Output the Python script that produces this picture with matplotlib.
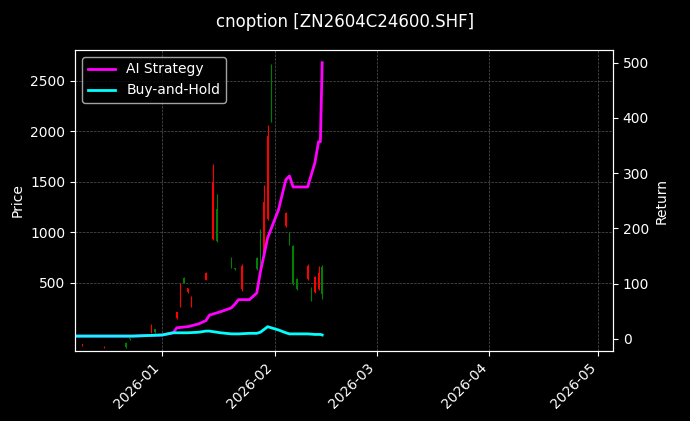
import pandas as pd
import matplotlib
matplotlib.use("Agg")
import matplotlib.pyplot as plt
import matplotlib.dates as mdates

plt.style.use("dark_background")

# candles: date, open, high, low, close
c_dates = ["2025-12-10", "2025-12-16", "2025-12-22", "2025-12-23", "2025-12-29", "2025-12-30",
           "2026-01-05", "2026-01-06", "2026-01-07", "2026-01-08", "2026-01-09", "2026-01-13",
           "2026-01-15", "2026-01-16", "2026-01-20", "2026-01-21", "2026-01-23", "2026-01-27",
           "2026-01-28", "2026-01-29", "2026-01-30", "2026-01-31", "2026-02-04", "2026-02-05",
           "2026-02-06", "2026-02-07", "2026-02-10", "2026-02-11", "2026-02-12", "2026-02-13",
           "2026-02-14"]
c_open = [-110, -135, -140, -60, 80, 10, 210, 480, 500, 445, 350, 600, 1500, 910, 650, 640, 670, 640, 630, 1300, 1950, 2100, 1190, 880, 490, 440, 670, 330, 560, 600, 390]
c_close = [-120, -140, -95, -50, 10, 40, 150, 270, 545, 405, 270, 530, 930, 1230, 750, 640, 440, 750, 950, 790, 1130, 2650, 1060, 970, 860, 540, 540, 450, 410, 440, 660]
c_high = [-105, -130, -90, -45, 90, 45, 215, 500, 555, 450, 365, 605, 1680, 1380, 760, 650, 690, 760, 1030, 1470, 2060, 2670, 1200, 1000, 870, 550, 690, 460, 570, 670, 680]
c_low = [-125, -145, -145, -65, 0, 5, 145, 260, 500, 395, 260, 525, 925, 900, 645, 630, 420, 630, 610, 770, 1120, 2090, 1050, 870, 480, 430, 530, 320, 400, 430, 340]

# strategy returns (%)
r_dates = ["2025-12-08 00:00", "2025-12-24 00:00", "2026-01-01 00:00", "2026-01-04 00:00", "2026-01-05 00:00", "2026-01-08 00:00",
           "2026-01-11 00:00", "2026-01-13 00:00", "2026-01-14 00:00", "2026-01-17 00:00", "2026-01-20 00:00", "2026-01-21 00:00",
           "2026-01-22 00:00", "2026-01-25 00:00", "2026-01-27 00:00", "2026-01-28 00:00", "2026-01-30 00:00", "2026-02-02 00:00",
           "2026-02-04 00:00", "2026-02-05 00:00", "2026-02-06 00:00", "2026-02-10 00:00", "2026-02-12 00:00", "2026-02-13 00:00",
           "2026-02-13 12:00", "2026-02-14 00:00"]
ai_ret = [5, 5, 7, 11, 20, 22, 27, 33, 43, 49, 56, 63, 71, 71, 83, 121, 183, 234, 288, 295, 275, 275, 319, 357, 357, 500]
bh_ret = [5, 5, 7, 11, 11, 11, 12, 14, 14, 11, 9, 9, 9, 10, 10, 12, 22, 16, 11, 9, 9, 9, 8, 8, 8, 7]

cd = pd.to_datetime(c_dates)
rd = pd.to_datetime(r_dates, format="%Y-%m-%d %H:%M")

fig = plt.figure(figsize=(6.9, 4.21), dpi=100)
ax = fig.add_axes([75 / 690, 70 / 421, 538 / 690, 301 / 421])
w = 0.4
for d, o, h, l, c in zip(cd, c_open, c_high, c_low, c_close):
    col = "green" if c >= o else "red"
    x = mdates.date2num(d)
    ax.vlines(x, l, h, color=col, linewidth=0.8)
    ax.bar(x, abs(c - o) or 5, bottom=min(o, c), width=w, color=col)
ax.set_ylim(-175, 2805)
ax.set_yticks([500, 1000, 1500, 2000, 2500])
ax.set_ylabel("Price")
ax.set_xlim(mdates.date2num(pd.Timestamp("2025-12-08")), mdates.date2num(pd.Timestamp("2026-05-05")))
ax.xaxis.set_major_locator(mdates.MonthLocator())
ax.xaxis.set_major_formatter(mdates.DateFormatter("%Y-%m"))
plt.setp(ax.get_xticklabels(), rotation=45, ha="right")
ax.grid(True, linestyle="--", color="#555555", linewidth=0.5)

ax2 = ax.twinx()
ax2.plot(rd, ai_ret, color="magenta", linewidth=2, label="AI Strategy")
ax2.plot(rd, bh_ret, color="cyan", linewidth=2, label="Buy-and-Hold")
ax2.set_ylim(-22, 523)
ax2.set_ylabel("Return")
ax2.legend(loc="upper left")
fig.suptitle("cnoption [ZN2604C24600.SHF]", y=0.97)
fig.savefig("out.png", dpi=100)
